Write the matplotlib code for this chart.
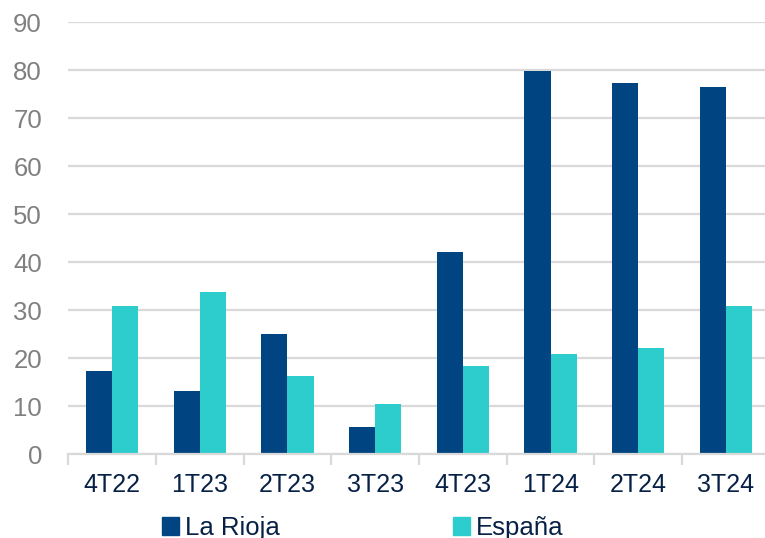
import matplotlib
matplotlib.use("Agg")
import matplotlib.pyplot as plt
import numpy as np
from matplotlib.patches import Patch

# Quarterly values
quarters = ["4T22", "1T23", "2T23", "3T23", "4T23", "1T24", "2T24", "3T24"]
la_rioja = [17.2, 13.1, 25.1, 5.6, 42.1, 79.7, 77.2, 76.4]
espana = [30.8, 33.7, 16.3, 10.5, 18.3, 20.9, 22.1, 30.8]
series_names = ["La Rioja", "España"]

NAVY = "#004481"
AQUA = "#2DCCCD"
TEXT = "#072146"
GREY_TXT = "#808080"
GRID = "#D9D9D9"

plt.rcParams["font.family"] = ["Liberation Sans", "DejaVu Sans"]

W, H = 765, 538
fig = plt.figure(figsize=(W / 100, H / 100), dpi=100)
left, right = 68.3 / W, 769.7 / W
bottom, top = (H - 454) / H, (H - 22) / H
ax = fig.add_axes([left, bottom, right - left, top - bottom])

x = np.arange(len(quarters))
bw = 0.297
ax.bar(x - bw / 2, la_rioja, width=bw, color=NAVY, zorder=3)
ax.bar(x + bw / 2, espana, width=bw, color=AQUA, zorder=3)

ax.set_xlim(-0.5, len(quarters) - 0.5)
ax.set_ylim(0, 90)
ax.set_yticks(np.arange(0, 91, 10))
ax.yaxis.grid(True, color=GRID, linewidth=1.6, zorder=0)
ax.set_axisbelow(True)

for s in ["top", "right", "left"]:
    ax.spines[s].set_visible(False)
ax.spines["bottom"].set_color(GRID)
ax.spines["bottom"].set_linewidth(1.6)
ax.spines["bottom"].set_zorder(4)

ax.set_xticks(x)
ax.set_xticklabels(quarters)
ax.set_xticks(np.arange(-0.5, len(quarters), 1.0), minor=True)
ax.tick_params(axis="x", which="major", length=0, pad=13.5, labelsize=18, labelcolor=TEXT)
ax.tick_params(axis="x", which="minor", length=8, width=1.6, color=GRID, direction="out")
ax.tick_params(axis="y", length=0, pad=19, labelsize=18.5, labelcolor=GREY_TXT)

leg_kw = dict(frameon=False, fontsize=18.5, handlelength=0.68, handleheight=0.68,
              handletextpad=0.2, borderpad=0, borderaxespad=0, labelcolor=TEXT)
fig.legend([Patch(color=NAVY)], [series_names[0]], loc="center left",
           bbox_to_anchor=(162 / W, (H - 528) / H), **leg_kw)
fig.legend([Patch(color=AQUA)], [series_names[1]], loc="center left",
           bbox_to_anchor=(453 / W, (H - 528) / H), **leg_kw)

fig.savefig("out.png", dpi=100)
